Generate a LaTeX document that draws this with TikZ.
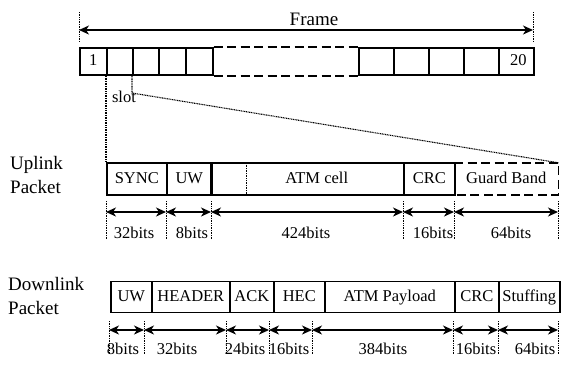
\documentclass[tikz,border=0pt]{standalone}
\usepackage{fontspec}
\setmainfont{Liberation Serif}
\usetikzlibrary{arrows.meta}
\begin{document}
\begin{tikzpicture}[x=1pt,y=-1pt,
  box/.style={draw,line width=1.6pt,rectangle,inner sep=0pt,minimum height=#1,anchor=west},
  box/.default=27pt,
  txt/.style={font=\fontsize{16.5}{18}\selectfont,inner sep=0pt,text height=11.5pt,text depth=3.5pt},
  big/.style={font=\fontsize{19}{24}\selectfont,inner sep=0pt},
  dim/.style={line width=1.6pt,{Stealth[length=10pt,width=9pt,inset=3pt]}-{Stealth[length=10pt,width=9pt,inset=3pt]}},
  tick/.style={line width=0.9pt,dash pattern=on 1pt off 0.7pt},
  dotl/.style={line width=1.1pt,dash pattern=on 1pt off 0.7pt},
  dashbox/.style={line width=1.6pt,dash pattern=on 9pt off 4.5pt}]
\useasboundingbox (0,0) rectangle (566,365);
% ---------- Frame ----------
\coordinate (f0) at (79,30);
\coordinate (f1) at (533,30);
\draw[tick] (79,12) -- (79,42);
\draw[tick] (533,12) -- (533,42);
\draw[dim] (f0) -- (f1);
\node[big] (frame) at (314,19) {Frame};
% slots
\node[box,minimum width=27pt,txt] (s1) at (79,61.5) {1};
\node[box,minimum width=26pt] (s2) at (106,61.5) {};
\node[box,minimum width=26pt] (s3) at (132,61.5) {};
\node[box,minimum width=27pt] (s4) at (158,61.5) {};
\node[box,minimum width=27pt] (s5) at (185,61.5) {};
\node[box,minimum width=35pt] (s16) at (358,61.5) {};
\node[box,minimum width=35pt] (s17) at (393,61.5) {};
\node[box,minimum width=35pt] (s18) at (428,61.5) {};
\node[box,minimum width=35pt] (s19) at (463,61.5) {};
\node[box,minimum width=35pt,txt] (s20) at (498,61.5) {\hspace{4pt}20};
\draw[dashbox] (s5.north east) -- (s16.north west);
\draw[dashbox] (s5.south east) -- (s16.south west);
\node[txt] (slot) at (124,98) {slot};
% ---------- Uplink ----------
\node[big,align=left,anchor=west] (uplab) at (10,175) {Uplink\\Packet};
\node[box=32pt,minimum width=60pt,txt] (sync) at (106,179) {SYNC};
\node[box=32pt,minimum width=45pt,txt] (uw) at (166,179) {UW};
\node[inner sep=0pt,minimum height=32pt,minimum width=35pt,anchor=west] (blank) at (211,179) {};
\node[inner sep=0pt,minimum height=32pt,minimum width=157pt,anchor=west,txt] (atm) at (246,179) {\hspace{-16pt}ATM cell};
\draw[line width=1.6pt] (blank.north west) rectangle (atm.south east);
\draw[dotl] (blank.north east) -- (blank.south east);
\node[box=32pt,minimum width=51pt,txt] (crc) at (403,179) {CRC};
\node[inner sep=0pt,minimum height=32pt,minimum width=104pt,anchor=west,txt] (guard) at (454,179) {Guard Band};
\draw[dashbox] (guard.north west) -- (guard.north east) -- (guard.south east) -- (guard.south west);
% zoom lines
\draw[dotl] (s2.south west) -- (sync.north west);
\coordinate (bend) at (132,93);
\draw[dotl] (s3.south west) -- (bend) -- (guard.north east);
% uplink dimensions
\foreach \n/\x in {u0/106,u1/166,u2/211,u3/403,u4/454,u5/558}{
  \coordinate (\n) at (\x,212);
  \draw[tick] (\x,201) -- (\x,239);
}
\draw[dim] (u0) -- (u1);
\draw[dim] (u1) -- (u2);
\draw[dim] (u2) -- (u3);
\draw[dim] (u3) -- (u4);
\draw[dim] (u4) -- (u5);
\node[txt] (ub1) at (134,234) {32bits};
\node[txt] (ub2) at (192,234) {8bits};
\node[txt] (ub3) at (306,234) {424bits};
\node[txt] (ub4) at (433,234) {16bits};
\node[txt] (ub5) at (511,234) {64bits};
% ---------- Downlink ----------
\node[big,align=left,anchor=west] (dnlab) at (8,296) {Downlink\\Packet};
\node[box=31pt,minimum width=41pt,txt] (duw) at (110,297) {UW};
\node[box=31pt,minimum width=78pt,txt] (dhdr) at (151,297) {HEADER};
\node[box=31pt,minimum width=44pt,txt] (dack) at (229,297) {ACK};
\node[box=31pt,minimum width=51pt,txt] (dhec) at (273,297) {HEC};
\node[box=31pt,minimum width=130pt,txt] (dpay) at (324,297) {ATM Payload};
\node[box=31pt,minimum width=44pt,txt] (dcrc) at (454,297) {CRC};
\node[box=31pt,minimum width=61pt,txt] (dstf) at (498,297) {Stuffing};
\foreach \n/\x in {d0/109,d1/144,d2/226,d3/269,d4/312,d5/453,d6/498,d7/558}{
  \coordinate (\n) at (\x,330);
  \draw[tick] (\x,321) -- (\x,354);
}
\draw[dim] (d0) -- (d1);
\draw[dim] (d1) -- (d2);
\draw[dim] (d2) -- (d3);
\draw[dim] (d3) -- (d4);
\draw[dim] (d4) -- (d5);
\draw[dim] (d5) -- (d6);
\draw[dim] (d6) -- (d7);
\node[txt] (db1) at (123,350) {8bits};
\node[txt] (db2) at (177,350) {32bits};
\node[txt] (db3) at (245,350) {24bits};
\node[txt] (db4) at (289,350) {16bits};
\node[txt] (db5) at (383,350) {384bits};
\node[txt] (db6) at (476,350) {16bits};
\node[txt] (db7) at (535,350) {64bits};
\end{tikzpicture}
\end{document}
